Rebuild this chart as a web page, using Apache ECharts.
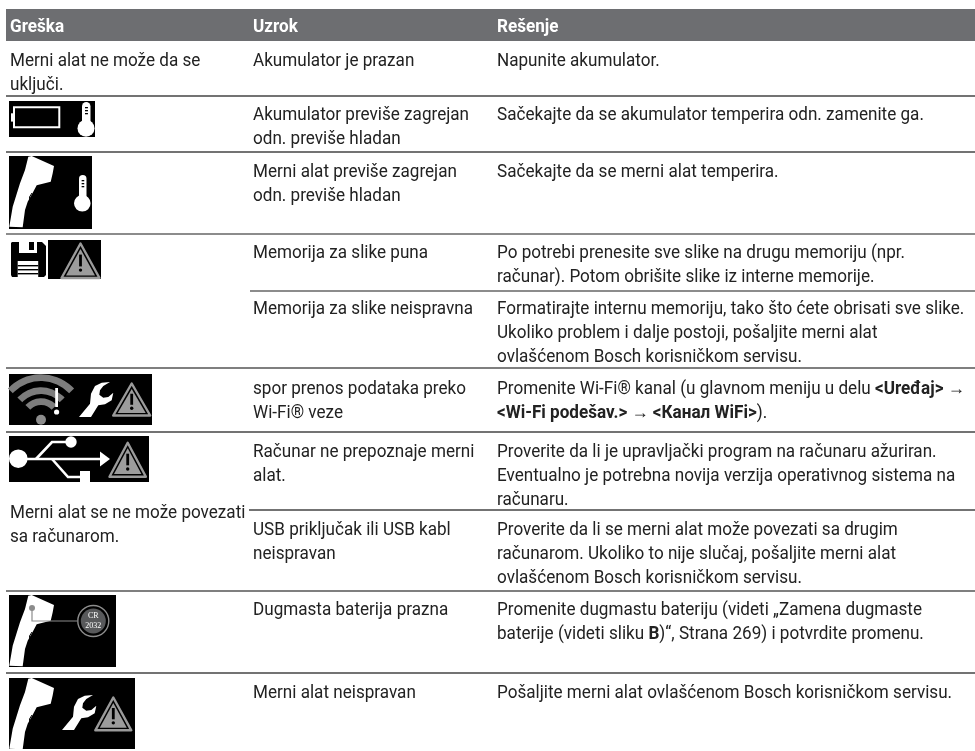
<!DOCTYPE html>
<html><head><meta charset="utf-8"><style>html,body{margin:0;padding:0;background:#fff}#c{width:975px;height:751px}</style>
<script src="https://cdn.jsdelivr.net/npm/echarts@6/dist/echarts.min.js"></script></head><body><div id="c"></div>
<script>
// ---- content ----
const headers = ['Greška', 'Uzrok', 'Rešenje'];
const errors = [['Merni alat ne može da se', 'uključi.'], [], [], [], [], [], ['Merni alat se ne može povezati', 'sa računarom.'], [], [], []];
const causes = [
  ['Akumulator je prazan'],
  ['Akumulator previše zagrejan', 'odn. previše hladan'],
  ['Merni alat previše zagrejan', 'odn. previše hladan'],
  ['Memorija za slike puna'],
  ['Memorija za slike neispravna'],
  ['spor prenos podataka preko', 'Wi-Fi® veze'],
  ['Računar ne prepoznaje merni', 'alat.'],
  ['USB priključak ili USB kabl', 'neispravan'],
  ['Dugmasta baterija prazna'],
  ['Merni alat neispravan']
];
const solutions = [
  ['Napunite akumulator.'],
  ['Sačekajte da se akumulator temperira odn. zamenite ga.'],
  ['Sačekajte da se merni alat temperira.'],
  ['Po potrebi prenesite sve slike na drugu memoriju (npr.', 'računar). Potom obrišite slike iz interne memorije.'],
  ['Formatirajte internu memoriju, tako što ćete obrisati sve slike.', 'Ukoliko problem i dalje postoji, pošaljite merni alat', 'ovlašćenom Bosch korisničkom servisu.'],
  ['Promenite Wi-Fi® kanal (u glavnom meniju u delu *<Uređaj>* →', '*<Wi-Fi podešav.>* → *<Канал WiFi>*).'],
  ['Proverite da li je upravljački program na računaru ažuriran.', 'Eventualno je potrebna novija verzija operativnog sistema na', 'računaru.'],
  ['Proverite da li se merni alat može povezati sa drugim', 'računarom. Ukoliko to nije slučaj, pošaljite merni alat', 'ovlašćenom Bosch korisničkom servisu.'],
  ['Promenite dugmastu bateriju (videti „Zamena dugmaste', 'baterije (videti sliku *B*)“, Strana 269) i potvrdite promenu.'],
  ['Pošaljite merni alat ovlašćenom Bosch korisničkom servisu.']
];
// ---- layout ----
const colX = [10, 253, 497];
const rowBase = [66, 120, 177, 258, 314, 394, 457, 535, 615, 698];
const errBase = [66, 0, 0, 0, 0, 0, 518, 0, 0, 0];
const LH = 24.1, FS = 18, SX = 0.95, FONT = 'Roboto';
const rules = [[96,6,'#444'],[152,6,'#444'],[234,6,'#666'],[291,250,'#666'],[368,6,'#555'],[432,6,'#444'],[510,249,'#444'],[591,6,'#555'],[673,6,'#444']];
const W='#fff', G='#8c8c8c';
const TOOL = [[22.7,0],[45,10],[43.7,17.3],[41.7,25.7],[27.7,29.3],[24.3,35.7],[18.7,45.7],[16,54],[13.7,71.3],[0.3,70.7],[3.7,50.7],[11,27.3],[16,14],[19.3,0.7]];
const WRENCH = [[0,0],[11,-13.3],[12,-23.3],[16,-31],[22.7,-34.3],[31,-35],[24.3,-31],[21,-26.7],[20.3,-22.3],[24.3,-19.3],[29.3,-20],[34.3,-24.3],[32.7,-16.7],[26,-12.7],[19.3,-11.7],[12,0]];
const icons = [
 {x:9,y:101,w:86,h:36,p:[['rs',5,6.3,45.3,20,W,2],['r',2,12.3,3,8.3,W],['th',73,1,8.5,77,27.3,8.5]]},
 {x:9,y:156,w:83,h:73,p:[['tool',0,0],['th',70,19,7.5,73.3,47.3,8.3]]},
 {x:9,y:240,w:92,h:39,p:[['floppy'],['warn',71.5,2,20.5,37]]},
 {x:9,y:374,w:143,h:51,p:[['arc',32,45.7,42],['arc',32,45.7,29],['arc',32,45.7,18],['c',32,45.7,5,G],['r',46.2,14,2.8,19,W],['c',47.6,38,2.6,W],['wr',70,43],['warn',122.7,8,20,34.5]]},
 {x:9,y:436,w:140,h:46,p:[['c',9.3,22.7,9.3,W],['l',[[9,23],[92,23]],W,2.6],['pg',[[91,15.5],[101,23],[91,30.5]],W],['l',[[27,23],[43,6],[57,6]],W,2.6],['c',62,6,5.7,W],['l',[[43,23],[59,41],[72,41]],W,2.6],['r',71,35,10,11,W],['warn',118.7,5.3,19.7,36.4]]},
 {x:9,y:595,w:107,h:72,p:[['tool',0,0],['l',[[23,13],[23,26],[68,26]],G,1.2],['c',23,13,3,G],['c',84.3,26,15.5,null,G,1.4],['c',84.3,26,12.5,'#58595b'],['t',84.3,21,'CR'],['t',84.3,31,'2032']]},
 {x:9,y:678,w:126,h:71,p:[['tool',0,0],['wr',53,52],['warn',104.3,18,19.5,35.3]]}
];
// ---- build ----
const cell = [];
errors.forEach((ls,r)=>ls.forEach((s,i)=>cell.push([colX[0],errBase[r]+i*LH,s])));
causes.forEach((ls,r)=>ls.forEach((s,i)=>cell.push([colX[1],rowBase[r]+i*LH,s])));
solutions.forEach((ls,r)=>ls.forEach((s,i)=>cell.push([colX[2],rowBase[r]+i*LH,s])));
function pts(o,arr,dx,dy){return arr.map(p=>[o[0]+p[0]+(dx||0),o[1]+p[1]+(dy||0)]);}
function box(o,x,y,w,h,fill){return {type:'rect',shape:{x:o[0]+x,y:o[1]+y,width:w,height:h},style:{fill:fill}};}
function warn(o,cx,top,hw,h){
  const a=[o[0]+cx,o[1]+top], b=o[1]+top+h;
  return [{type:'polygon',shape:{points:[[a[0],a[1]+1.5],[a[0]+hw-1.5,b-1],[a[0]-hw+1.5,b-1]]},style:{fill:'#000',stroke:'#9a9a9a',lineWidth:2.4,lineJoin:'round'}},
   {type:'polygon',shape:{points:[[a[0],a[1]+7],[a[0]+hw-6,b-3.6],[a[0]-hw+6,b-3.6]]},style:{fill:'#9c9c9c'}},
   {type:'rect',shape:{x:a[0]-1.4,y:a[1]+h*0.34,width:2.8,height:h*0.32},style:{fill:'#000'}},
   {type:'circle',shape:{cx:a[0],cy:a[1]+h*0.76,r:1.7},style:{fill:'#000'}}];
}
function part(o,p){
  const k=p[0];
  if(k==='r')return [box(o,p[1],p[2],p[3],p[4],p[5])];
  if(k==='rs')return [{type:'rect',shape:{x:o[0]+p[1],y:o[1]+p[2],width:p[3],height:p[4]},style:{fill:'none',stroke:p[5],lineWidth:p[6]}}];
  if(k==='c')return [{type:'circle',shape:{cx:o[0]+p[1],cy:o[1]+p[2],r:p[3]},style:{fill:p[4]||'none',stroke:p[5]||null,lineWidth:p[6]||0}}];
  if(k==='l')return [{type:'polyline',shape:{points:pts(o,p[1])},style:{fill:'none',stroke:p[2],lineWidth:p[3]}}];
  if(k==='pg')return [{type:'polygon',shape:{points:pts(o,p[1])},style:{fill:p[2]}}];
  if(k==='t')return [{type:'text',x:o[0]+p[1],y:o[1]+p[2],style:{text:p[3],fill:'#fff',font:'8px "Liberation Serif"',align:'center',verticalAlign:'middle'}}];
  if(k==='arc')return [{type:'sector',shape:{cx:o[0]+p[1],cy:o[1]+p[2],r0:p[3]-3.4,r:p[3]+3.4,startAngle:-Math.PI*0.76,endAngle:-Math.PI*0.24,clockwise:true},style:{fill:'#7d7d7d'}}];
  if(k==='tool')return [{type:'polygon',shape:{points:pts(o,TOOL)},style:{fill:W}},{type:'polyline',shape:{points:pts(o,[[23,37],[20.5,41],[21,46]])},style:{fill:'none',stroke:'#000',lineWidth:1}}];
  if(k==='wr')return [{type:'polygon',shape:{points:pts(o,WRENCH,p[1],p[2])},style:{fill:W}}];
  if(k==='warn')return warn(o,p[1],p[2],p[3],p[4]);
  if(k==='th'){const [,x,y,w,cx,cy,r]=p;return [
    {type:'rect',shape:{x:o[0]+x,y:o[1]+y,width:w,height:cy-y,r:[w/2,w/2,0,0]},style:{fill:W}},
    {type:'circle',shape:{cx:o[0]+cx,cy:o[1]+cy,r:r},style:{fill:W}},
    box(o,x+w*0.35,y+5,w*0.35,1.3,'#000'),box(o,x+w*0.35,y+8,w*0.35,1.3,'#000'),box(o,x+w*0.35,y+11,w*0.35,1.3,'#000')];}
  if(k==='floppy')return [
    box(o,0,0,39,39,W),
    {type:'polygon',shape:{points:pts(o,[[3,2],[33,2],[37,6],[37,35],[35,37],[3,37],[2,35],[2,3]])},style:{fill:'#000'}},
    box(o,10,2,18,11,W),box(o,20,2,5,8,'#000'),
    box(o,8.7,21,20.5,16,W),
    box(o,8.7,25,20.5,1.4,'#000'),box(o,8.7,29,20.5,1.4,'#000'),box(o,8.7,33,20.5,1.4,'#000')];
  return [];
}
const chart = echarts.init(document.getElementById('c'),null,{renderer:'canvas'});
chart.setOption({
  animation:false, backgroundColor:'#fff',
  grid:{left:0,right:0,top:0,bottom:0},
  xAxis:{type:'value',min:0,max:975,show:false},
  yAxis:{type:'value',min:0,max:751,inverse:true,show:false},
  series:[
   {type:'custom',coordinateSystem:'cartesian2d',silent:true,data:[[6,9]],encode:{x:0,y:1},
    renderItem:(pr,api)=>{const a=api.coord([6,9]),b=api.coord([975,41]);
      return {type:'group',children:[{type:'rect',shape:{x:a[0],y:a[1],width:b[0]-a[0],height:b[1]-a[1]},style:{fill:'#6d6e71'}}].concat(
        headers.map((h,i)=>{const c=api.coord([colX[i],27.5]);return {type:'text',x:c[0],y:c[1],scaleX:SX,style:{text:h,fill:'#fff',font:'bold '+FS+'px '+FONT,verticalAlign:'middle'}};}))};}},
   {type:'custom',coordinateSystem:'cartesian2d',silent:true,data:rules.map(r=>[r[1],r[0],r[2]]),encode:{x:0,y:1},
    renderItem:(pr,api)=>{const r=rules[pr.dataIndex],a=api.coord([r[1],r[0]]),e=api.coord([975,r[0]]);
      return {type:'line',shape:{x1:a[0],y1:a[1],x2:e[0],y2:e[1]},style:{stroke:r[2],lineWidth:1.4}};}},
   {type:'custom',coordinateSystem:'cartesian2d',silent:true,data:icons.map(ic=>[ic.x,ic.y]),encode:{x:0,y:1},
    renderItem:(pr,api)=>{const ic=icons[pr.dataIndex],o=api.coord([ic.x,ic.y]);
      let ch=[{type:'rect',shape:{x:o[0],y:o[1],width:ic.w,height:ic.h},style:{fill:'#000'}}];
      ic.p.forEach(p=>{ch=ch.concat(part(o,p));});
      return {type:'group',children:ch};}},
   {type:'custom',coordinateSystem:'cartesian2d',silent:true,data:cell.map(c=>[c[0],c[1]]),encode:{x:0,y:1},
    renderItem:(pr,api)=>{const c=cell[pr.dataIndex],p=api.coord([c[0],c[1]-5]);
      const parts=c[2].split('*');
      const txt=parts.map((s,i)=>s===''?'':'{'+(i%2?'b':'n')+'|'+s+'}').join('');
      return {type:'text',x:p[0],y:p[1],scaleX:SX,style:{text:txt,verticalAlign:'middle',rich:{
        n:{fontSize:FS,fontFamily:FONT,fill:'#222'},b:{fontSize:FS,fontWeight:'bold',fontFamily:FONT,fill:'#222'}}}};}}
  ]
});
</script></body></html>
